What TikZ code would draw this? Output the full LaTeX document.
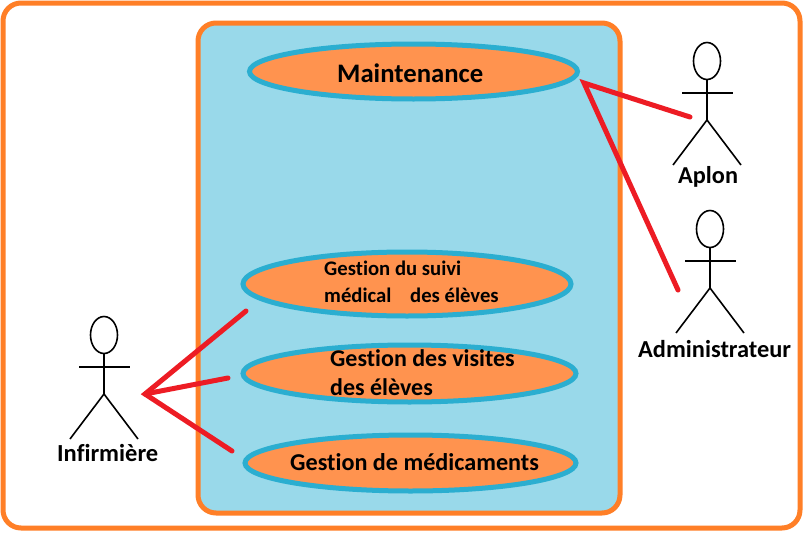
\documentclass[tikz,border=0pt]{standalone}
\usepackage{fontspec}
\setmainfont{Carlito}[Ligatures=CommonOff]
\definecolor{frameor}{RGB}{255,127,39}
\definecolor{panel}{RGB}{153,217,234}
\definecolor{ellfill}{RGB}{255,147,79}
\definecolor{ellline}{RGB}{43,174,208}
\definecolor{wire}{RGB}{237,28,36}
\usetikzlibrary{shapes.geometric}
\tikzset{
  x=1pt,y=-1pt,
  usecase/.style={draw=ellline,fill=ellfill,line width=5pt,ellipse,inner sep=0pt},
  actorline/.style={draw=black,line width=1.6pt},
  link/.style={draw=wire,line width=5pt,line cap=round},
  lbl/.style={inner sep=0pt,anchor=base west,text=black},
}
\newcommand{\actor}[3]{%
  \node[actorline,ellipse,minimum width=27pt,minimum height=37pt,inner sep=0pt] (#1head) at (#2,#3+19) {};
  \coordinate (#1hip) at (#2,#3+78);
  \coordinate (#1la) at (#2-25,#3+51);
  \coordinate (#1ra) at (#2+26,#3+51);
  \coordinate (#1ll) at (#2-34,#3+123);
  \coordinate (#1rl) at (#2+34,#3+123);
  \draw[actorline] (#1head.south) -- (#1hip);
  \draw[actorline] (#1la) -- (#1ra);
  \draw[actorline] (#1ll) -- (#1hip) -- (#1rl);
}
\begin{document}
\begin{tikzpicture}
\useasboundingbox (0,0) rectangle (807,533);
\fill[white] (0,0) rectangle (807,533);
\draw[frameor,line width=5pt,rounded corners=18pt] (3,3) rectangle (800,528);
\draw[frameor,fill=panel,line width=5pt,rounded corners=18pt] (198,23) rectangle (620,513);

\node[usecase,minimum width=328pt,minimum height=55pt] (maint) at (413.5,71.5) {};
\node[usecase,minimum width=328pt,minimum height=64pt] (suivi) at (407,284) {};
\node[usecase,minimum width=333pt,minimum height=57pt] (visites) at (409.5,373.5) {};
\node[usecase,minimum width=331pt,minimum height=56pt] (medic) at (410.5,463) {};

\node[lbl,font=\bfseries\fontsize{26.7}{27}\selectfont] (tm) at (337,82) {Maintenance};
\node[lbl,font=\bfseries\fontsize{20.7}{21}\selectfont] (ts1) at (324,275) {Gestion du suivi};
\node[lbl,font=\bfseries\fontsize{20.7}{21}\selectfont] (ts2) at (324,302) {médical\hspace{14pt} des élèves};
\node[lbl,font=\bfseries\fontsize{24}{24}\selectfont] (tv1) at (330,366) {Gestion des visites};
\node[lbl,font=\bfseries\fontsize{24}{24}\selectfont] (tv2) at (330,395) {des élèves};
\node[lbl,font=\bfseries\fontsize{24.2}{24}\selectfont] (tg) at (290,470) {Gestion de médicaments};

\actor{inf}{104}{316}
\actor{apl}{707}{42}
\actor{adm}{710}{210}

\node[lbl,font=\bfseries\fontsize{24.5}{24}\selectfont] (linf) at (57,461) {Infirmière};
\node[lbl,font=\bfseries\fontsize{24.3}{24}\selectfont] (lapl) at (678,183) {Aplon};
\node[lbl,font=\bfseries\fontsize{24.4}{24}\selectfont] (ladm) at (638,357) {Administrateur};

\coordinate (hubR) at (584,83);
\coordinate (hubL) at (145,394);
\coordinate (endApl) at (690,117);
\coordinate (endAdm) at (678,290);
\coordinate (endS) at (246,311);
\coordinate (endV) at (228,378);
\coordinate (endM) at (232,451);
\draw[link] (endApl) -- (hubR) -- (endAdm);
\draw[link] (endS) -- (hubL) -- (endM);
\draw[link] (hubL) -- (endV);
\end{tikzpicture}
\end{document}
